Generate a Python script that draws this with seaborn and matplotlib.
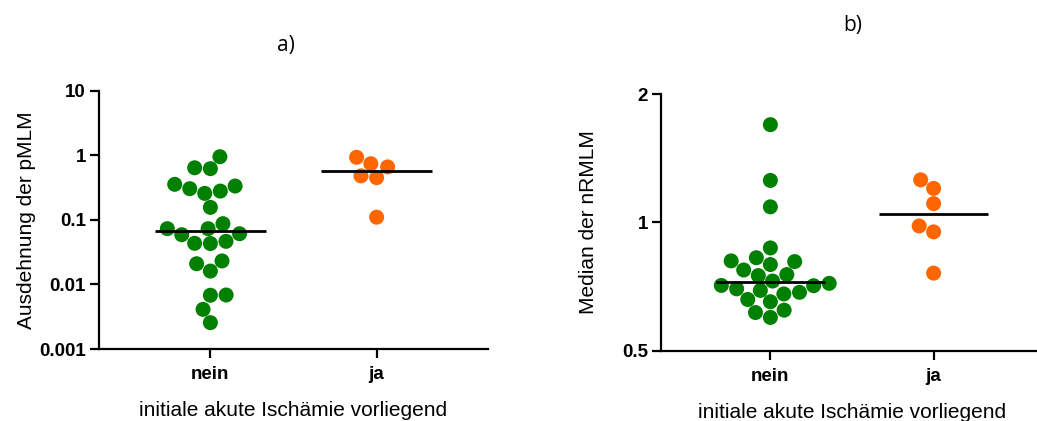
import numpy as np
import pandas as pd
import matplotlib
matplotlib.use("Agg")
import matplotlib.pyplot as plt
from matplotlib.ticker import FixedLocator, FixedFormatter, NullLocator
import seaborn as sns

# Groups
categories = ["nein", "ja"]

# a) Ausdehnung der pMLM
pmlm_nein = [0.95, 0.64, 0.62, 0.355, 0.334, 0.304, 0.279, 0.257, 0.156, 0.0873,
             0.073, 0.073, 0.061, 0.0589, 0.0465, 0.0433, 0.043, 0.0231, 0.0209,
             0.0161, 0.00686, 0.0068, 0.00411, 0.00256]
pmlm_ja = [0.93, 0.74, 0.66, 0.48, 0.45, 0.11]

# b) Median der nRMLM
nrmlm_nein = [1.697, 1.255, 1.088, 0.871, 0.826, 0.812, 0.809, 0.796, 0.773, 0.754,
              0.750, 0.728, 0.719, 0.711, 0.710, 0.698, 0.692, 0.685, 0.679, 0.659,
              0.651, 0.622, 0.614, 0.598]
nrmlm_ja = [1.259, 1.202, 1.107, 0.981, 0.950, 0.760]

ticks_a = [0.001, 0.01, 0.1, 1, 10]
ticklabels_a = ["0.001", "0.01", "0.1", "1", "10"]
ticks_b = [0.5, 1, 2]
ticklabels_b = ["0.5", "1", "2"]

palette = {"nein": "#008000", "ja": "#ff6600"}

sns.set_theme(style="ticks")
plt.rcParams["font.family"] = ["Liberation Sans", "DejaVu Sans"]
plt.rcParams["text.color"] = "black"
plt.rcParams["axes.labelcolor"] = "black"
plt.rcParams["xtick.color"] = "black"
plt.rcParams["ytick.color"] = "black"

W, H = 1037, 421
fig = plt.figure(figsize=(W / 100, H / 100), dpi=100)


def px_axes(x0, x1, ytop, ybot):
    return fig.add_axes([x0 / W, (H - ybot) / H, (x1 - x0) / W, (ybot - ytop) / H])


def panel(ax, nein, ja, ylabel, ticks, ticklabels, ylim, ylabel_x):
    df = pd.DataFrame({
        "gruppe": ["nein"] * len(nein) + ["ja"] * len(ja),
        "wert": list(nein) + list(ja),
    })
    ax.set_yscale("log")
    ax.set_ylim(*ylim)
    sns.swarmplot(data=df, x="gruppe", y="wert", hue="gruppe", order=categories,
                  palette=palette, size=10.8, linewidth=0, legend=False, ax=ax)
    meds = df.groupby("gruppe")["wert"].median()
    for i, c in enumerate(categories):
        ax.hlines(meds[c], i - 0.335, i + 0.335, color="black", lw=2.0, zorder=5)
    ax.set_xlim(-0.67, 1.67)
    ax.set_ylim(*ylim)
    ax.yaxis.set_major_locator(FixedLocator(ticks))
    ax.yaxis.set_major_formatter(FixedFormatter(ticklabels))
    ax.yaxis.set_minor_locator(NullLocator())
    for s in ["top", "right"]:
        ax.spines[s].set_visible(False)
    for s in ["left", "bottom"]:
        ax.spines[s].set_linewidth(1.6)
        ax.spines[s].set_color("black")
    ax.tick_params(axis="both", length=6.5, width=1.6, color="black",
                   labelcolor="black", labelsize=13.5, pad=3)
    ax.tick_params(axis="x", pad=6)
    for lab in ax.get_xticklabels() + ax.get_yticklabels():
        lab.set_fontweight("bold")
    ax.set_xlabel("initiale akute Ischämie vorliegend", fontsize=15, labelpad=13)
    ax.set_ylabel(ylabel, fontsize=15)
    ax.yaxis.set_label_coords(ylabel_x, 0.5)


ax_a = px_axes(99, 488, 90.7, 349)
panel(ax_a, pmlm_nein, pmlm_ja, "Ausdehnung der pMLM", ticks_a, ticklabels_a,
      (0.001, 10), (36 - 99) / 389)

ax_b = px_axes(661, 1043, 94.3, 350.5)
panel(ax_b, nrmlm_nein, nrmlm_ja, "Median der nRMLM", ticks_b, ticklabels_b,
      (0.5, 2), (598 - 661) / 382)

fig.text(286 / W, 1 - 45 / H, "a)", ha="center", va="center", fontsize=15,
         family=["Open Sans", "DejaVu Sans"])
fig.text(853 / W, 1 - 26 / H, "b)", ha="center", va="center", fontsize=15,
         family=["Open Sans", "DejaVu Sans"])

fig.savefig("out.png", dpi=100)
